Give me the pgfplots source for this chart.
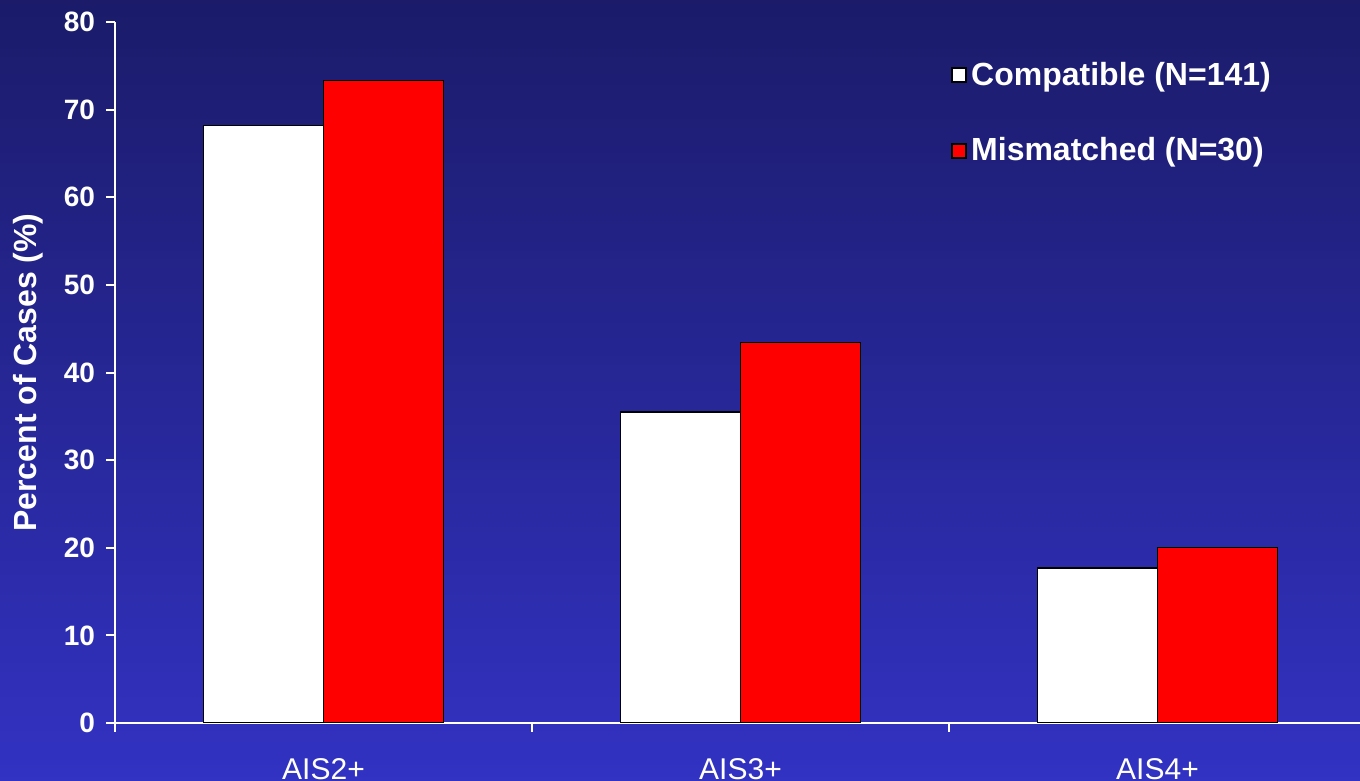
\documentclass[border=0pt]{standalone}
\usepackage{pgfplots}
\pgfplotsset{compat=1.18}
\usepackage{fontspec}
\setmainfont{Liberation Sans}
\definecolor{bgtop}{RGB}{27,27,106}
\definecolor{bgbot}{RGB}{50,50,195}
\begin{document}
\begin{tikzpicture}
\shade[top color=bgtop, bottom color=bgbot] (-57.5pt,-29pt) rectangle (622.5pt,361.5pt);
\useasboundingbox (-57.5pt,-29pt) rectangle (622.5pt,361.5pt);
\begin{axis}[
  at={(0pt,0pt)}, anchor=south west,
  scale only axis, width=622.5pt, height=350.5pt,
  xmin=-0.5, xmax=2.4856, ymin=0, ymax=80,
  axis lines*=left,
  axis line style={white, line width=1pt},
  tick style={white, line width=1pt},
  tick align=outside,
  major tick length=4.5pt,
  ytick={0,10,...,80},
  /pgf/number format/assume math mode=true,
  yticklabel style={font=\bfseries\fontsize{14}{16}\selectfont, text=white, xshift=-2pt},
  xtick={-0.5,0.5,1.5}, xticklabels={},
  extra x ticks={0,1,2}, extra x tick labels={AIS2+,AIS3+,AIS4+},
  extra x tick style={major tick length=0pt, tick style={draw=none},
    xticklabel style={font=\fontsize{15}{18}\selectfont, text=white, yshift=-14pt}},
  ylabel={Percent of Cases (\%)},
  every axis y label/.style={at={(axis description cs:-0.0700,0.5)}, rotate=90, anchor=center,
    font=\bfseries\fontsize{16}{19}\selectfont, text=white},
  ybar=0pt, bar width=60pt,
  legend style={at={(axis description cs:0.6665,0.9545)}, anchor=north west, draw=none, fill=none,
    text=white, font=\bfseries\fontsize{16}{19}\selectfont, row sep=20.5pt,
    /tikz/every even column/.style={column sep=3.5pt}},
  legend cell align=left,
  legend image code/.code={\draw[#1, draw=black, line width=1pt] (0pt,-3.5pt) rectangle (7pt,3.5pt);},
]
\addplot[fill=white, draw=black, line width=0.6pt] coordinates {(0,68.2) (1,35.5) (2,17.7)};
\addplot[fill=red, draw=black, line width=0.6pt] coordinates {(0,73.3) (1,43.4) (2,20.0)};
\legend{Compatible (N=141), Mismatched (N=30)}
\end{axis}
\end{tikzpicture}
\end{document}
